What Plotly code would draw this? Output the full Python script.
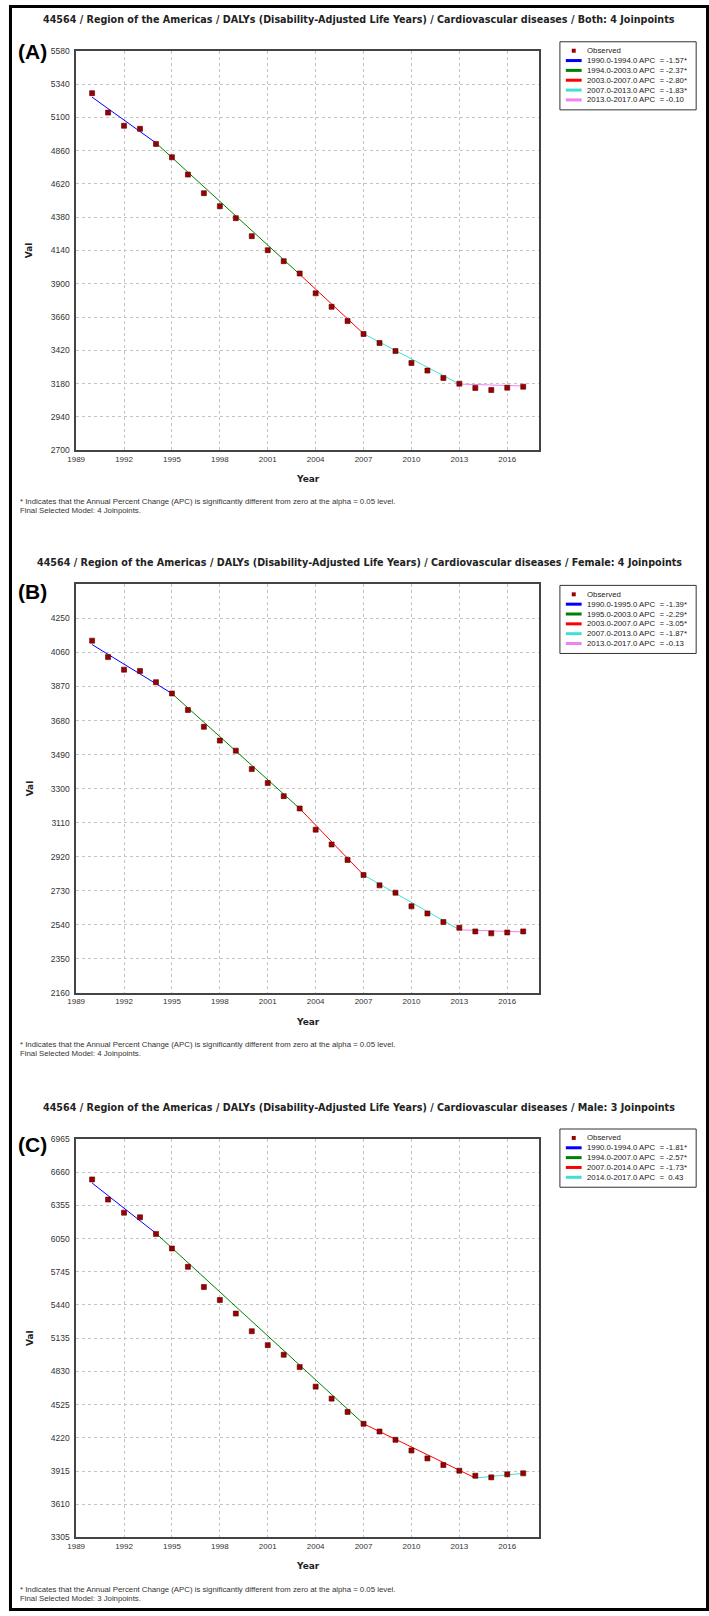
import plotly.graph_objects as go

W, H = 709, 1616

# ---------------- data ----------------
years = list(range(1990, 2018))

both_obs = [5274, 5134, 5039, 5017, 4908, 4812, 4687, 4553, 4459, 4373, 4243, 4142, 4063, 3974,
            3831, 3734, 3631, 3538, 3473, 3415, 3329, 3274, 3221, 3180, 3149, 3134, 3151, 3158]
female_obs = [4126, 4034, 3964, 3957, 3894, 3831, 3739, 3645, 3568, 3512, 3409, 3331, 3258, 3189,
              3071, 2988, 2902, 2818, 2760, 2719, 2643, 2603, 2555, 2523, 2503, 2492, 2497, 2503]
male_obs = [6593, 6408, 6288, 6245, 6093, 5959, 5791, 5605, 5486, 5361, 5199, 5071, 4983, 4870,
            4690, 4580, 4458, 4349, 4278, 4202, 4104, 4031, 3970, 3918, 3872, 3857, 3885, 3894]

both_join_years = [1990, 1994, 2003, 2007, 2013, 2017]
both_fit = [5245, 4915, 3968, 3540, 3177, 3163]
female_join_years = [1990, 1995, 2003, 2007, 2013, 2017]
female_fit = [4104, 3831, 3189, 2818, 2512, 2500]
male_join_years = [1990, 1994, 2007, 2014, 2017]
male_fit = [6560, 6098, 4349, 3851, 3894]

both_labels = ["1990.0-1994.0 APC  = -1.57*", "1994.0-2003.0 APC  = -2.37*", "2003.0-2007.0 APC  = -2.80*",
               "2007.0-2013.0 APC  = -1.83*", "2013.0-2017.0 APC  = -0.10"]
female_labels = ["1990.0-1995.0 APC  = -1.39*", "1995.0-2003.0 APC  = -2.29*", "2003.0-2007.0 APC  = -3.05*",
                 "2007.0-2013.0 APC  = -1.87*", "2013.0-2017.0 APC  = -0.13"]
male_labels = ["1990.0-1994.0 APC  = -1.81*", "1994.0-2007.0 APC  = -2.57*", "2007.0-2014.0 APC  = -1.73*",
               "2014.0-2017.0 APC  =  0.43"]

titles = ["44564 / Region of the Americas / DALYs (Disability-Adjusted Life Years) / Cardiovascular diseases / Both: 4 Joinpoints",
          "44564 / Region of the Americas / DALYs (Disability-Adjusted Life Years) / Cardiovascular diseases / Female: 4 Joinpoints",
          "44564 / Region of the Americas / DALYs (Disability-Adjusted Life Years) / Cardiovascular diseases / Male: 3 Joinpoints"]
panel_tags = ["(A)", "(B)", "(C)"]
footnote1 = "* Indicates that the Annual Percent Change (APC) is significantly different from zero at the alpha = 0.05 level."
footnotes2 = ["Final Selected Model: 4 Joinpoints.", "Final Selected Model: 4 Joinpoints.", "Final Selected Model: 3 Joinpoints."]

both_yticks = [2700, 2940, 3180, 3420, 3660, 3900, 4140, 4380, 4620, 4860, 5100, 5340, 5580]
female_yticks = [2160, 2350, 2540, 2730, 2920, 3110, 3300, 3490, 3680, 3870, 4060, 4250]
male_yticks = [3305, 3610, 3915, 4220, 4525, 4830, 5135, 5440, 5745, 6050, 6355, 6660, 6965]
x_ticks = [1989, 1992, 1995, 1998, 2001, 2004, 2007, 2010, 2013, 2016]

seg_colors = ["#0000FF", "#008000", "#FF0000", "#40E0D0", "#EE82EE"]
obs_color = "#990000"

# ---------------- layout geometry (pixels) ----------------
panels = [
    dict(obs=both_obs, jy=both_join_years, fit=both_fit, labels=both_labels, yticks=both_yticks,
         yrange=[2700, 5580], top=46, bottom=448, title_y=15, tag_y=47, leg_top=37),
    dict(obs=female_obs, jy=female_join_years, fit=female_fit, labels=female_labels, yticks=female_yticks,
         yrange=[2160, 4440], top=583, bottom=994, title_y=561, tag_y=590, leg_top=584),
    dict(obs=male_obs, jy=male_join_years, fit=male_fit, labels=male_labels, yticks=male_yticks,
         yrange=[3305, 6965], top=1141, bottom=1542, title_y=1109, tag_y=1147, leg_top=1131),
]
PX0, PX1 = 68, 537


def fx(x):
    return x / W


def fy(y):
    return 1 - y / H


fig = go.Figure()
annotations = []
shapes = []

for i, p in enumerate(panels):
    n = i + 1
    xa = "x" if n == 1 else f"x{n}"
    ya = "y" if n == 1 else f"y{n}"
    # fitted segments
    for k in range(len(p["jy"]) - 1):
        fig.add_trace(go.Scatter(x=[p["jy"][k], p["jy"][k + 1]], y=[p["fit"][k], p["fit"][k + 1]],
                                 mode="lines", line=dict(color=seg_colors[k], width=1),
                                 xaxis=xa, yaxis=ya, showlegend=False, hoverinfo="skip"))
    # observed
    fig.add_trace(go.Scatter(x=years, y=p["obs"], mode="markers",
                             marker=dict(symbol="square", size=5, color=obs_color,
                                         line=dict(color="#5a0000", width=0.6)),
                             xaxis=xa, yaxis=ya, showlegend=False))

    axis_common = dict(showline=True, mirror=True, linecolor="#444444", linewidth=1.5,
                       showgrid=True, gridcolor="#c4c4c4", griddash="dot", gridwidth=1,
                       zeroline=False, ticks="")
    xkey = "xaxis" if n == 1 else f"xaxis{n}"
    ykey = "yaxis" if n == 1 else f"yaxis{n}"
    fig.layout[xkey] = dict(domain=[fx(PX0), fx(PX1)], range=[1989, 2018], tickvals=x_ticks,
                            anchor=ya, tickfont=dict(family="Liberation Sans", size=8, color="#333333"),
                            **axis_common)
    fig.layout[ykey] = dict(domain=[fy(p["bottom"]), fy(p["top"])], range=p["yrange"],
                            tickvals=p["yticks"], anchor=xa, ticklabelstandoff=3,
                            tickfont=dict(family="Liberation Sans", size=8.5, color="#333333"),
                            **axis_common)

    # title
    annotations.append(dict(text=titles[i], x=fx(354.5), y=fy(p["title_y"]), xref="paper", yref="paper",
                            xanchor="center", yanchor="middle", showarrow=False,
                            font=dict(family="DejaVu Sans", size=9.6, color="#222222", weight="bold")))
    # panel tag
    annotations.append(dict(text=panel_tags[i], x=fx(7), y=fy(p["tag_y"]), xref="paper", yref="paper",
                            xanchor="left", yanchor="middle", showarrow=False,
                            font=dict(family="Liberation Sans", size=21, color="#000000", weight="bold")))
    # axis titles
    annotations.append(dict(text="Val", x=fx(21), y=fy((p["top"] + p["bottom"]) / 2), xref="paper", yref="paper",
                            xanchor="center", yanchor="middle", showarrow=False, textangle=-90,
                            font=dict(family="DejaVu Sans", size=9, color="#222222", weight="bold")))
    annotations.append(dict(text="Year", x=fx((PX0 + PX1) / 2), y=fy(p["bottom"] + 29), xref="paper", yref="paper",
                            xanchor="center", yanchor="middle", showarrow=False,
                            font=dict(family="DejaVu Sans", size=9, color="#222222", weight="bold")))
    # footnotes
    annotations.append(dict(text=footnote1, x=fx(9), y=fy(p["bottom"] + 52), xref="paper", yref="paper",
                            xanchor="left", yanchor="middle", showarrow=False,
                            font=dict(family="Liberation Sans", size=7.8, color="#333333")))
    annotations.append(dict(text=footnotes2[i], x=fx(9), y=fy(p["bottom"] + 61), xref="paper", yref="paper",
                            xanchor="left", yanchor="middle", showarrow=False,
                            font=dict(family="Liberation Sans", size=7.8, color="#333333")))

    # legend (drawn manually)
    nrows = 1 + len(p["labels"])
    step = 9.9
    r0 = p["leg_top"] + 9
    lb = r0 + (nrows - 1) * step + 10
    shapes.append(dict(type="rect", xref="paper", yref="paper", x0=fx(558), x1=fx(696),
                       y0=fy(lb), y1=fy(p["leg_top"]), line=dict(color="#333333", width=1),
                       fillcolor="white", layer="above"))
    shapes.append(dict(type="rect", xref="paper", yref="paper", x0=fx(570), x1=fx(574),
                       y0=fy(r0 + 2), y1=fy(r0 - 2), line=dict(width=0), fillcolor=obs_color, layer="above"))
    annotations.append(dict(text="Observed", x=fx(583), y=fy(r0), xref="paper", yref="paper",
                            xanchor="left", yanchor="middle", showarrow=False,
                            font=dict(family="Liberation Sans", size=7.8, color="#222222")))
    for k, lab in enumerate(p["labels"]):
        ry = r0 + (k + 1) * step
        shapes.append(dict(type="line", xref="paper", yref="paper", x0=fx(564), x1=fx(580),
                           y0=fy(ry), y1=fy(ry), line=dict(color=seg_colors[k], width=3), layer="above"))
        annotations.append(dict(text=lab.replace("  ", "\u00a0\u00a0"), x=fx(583), y=fy(ry),
                                xref="paper", yref="paper", xanchor="left", yanchor="middle", showarrow=False,
                                font=dict(family="Liberation Sans", size=7.8, color="#222222")))

# outer frame
shapes.append(dict(type="rect", xref="paper", yref="paper", x0=fx(1.5), x1=fx(W - 1.5),
                   y0=fy(H - 1.5), y1=fy(1.5), line=dict(color="#000000", width=3), layer="above"))

fig.update_layout(width=W, height=H, margin=dict(l=0, r=0, t=0, b=0),
                  paper_bgcolor="white", plot_bgcolor="white",
                  annotations=annotations, shapes=shapes, showlegend=False)

fig.write_html("out.html", config={"displayModeBar": False},
               post_script="document.body.style.margin='0';document.body.style.overflow='hidden';")
